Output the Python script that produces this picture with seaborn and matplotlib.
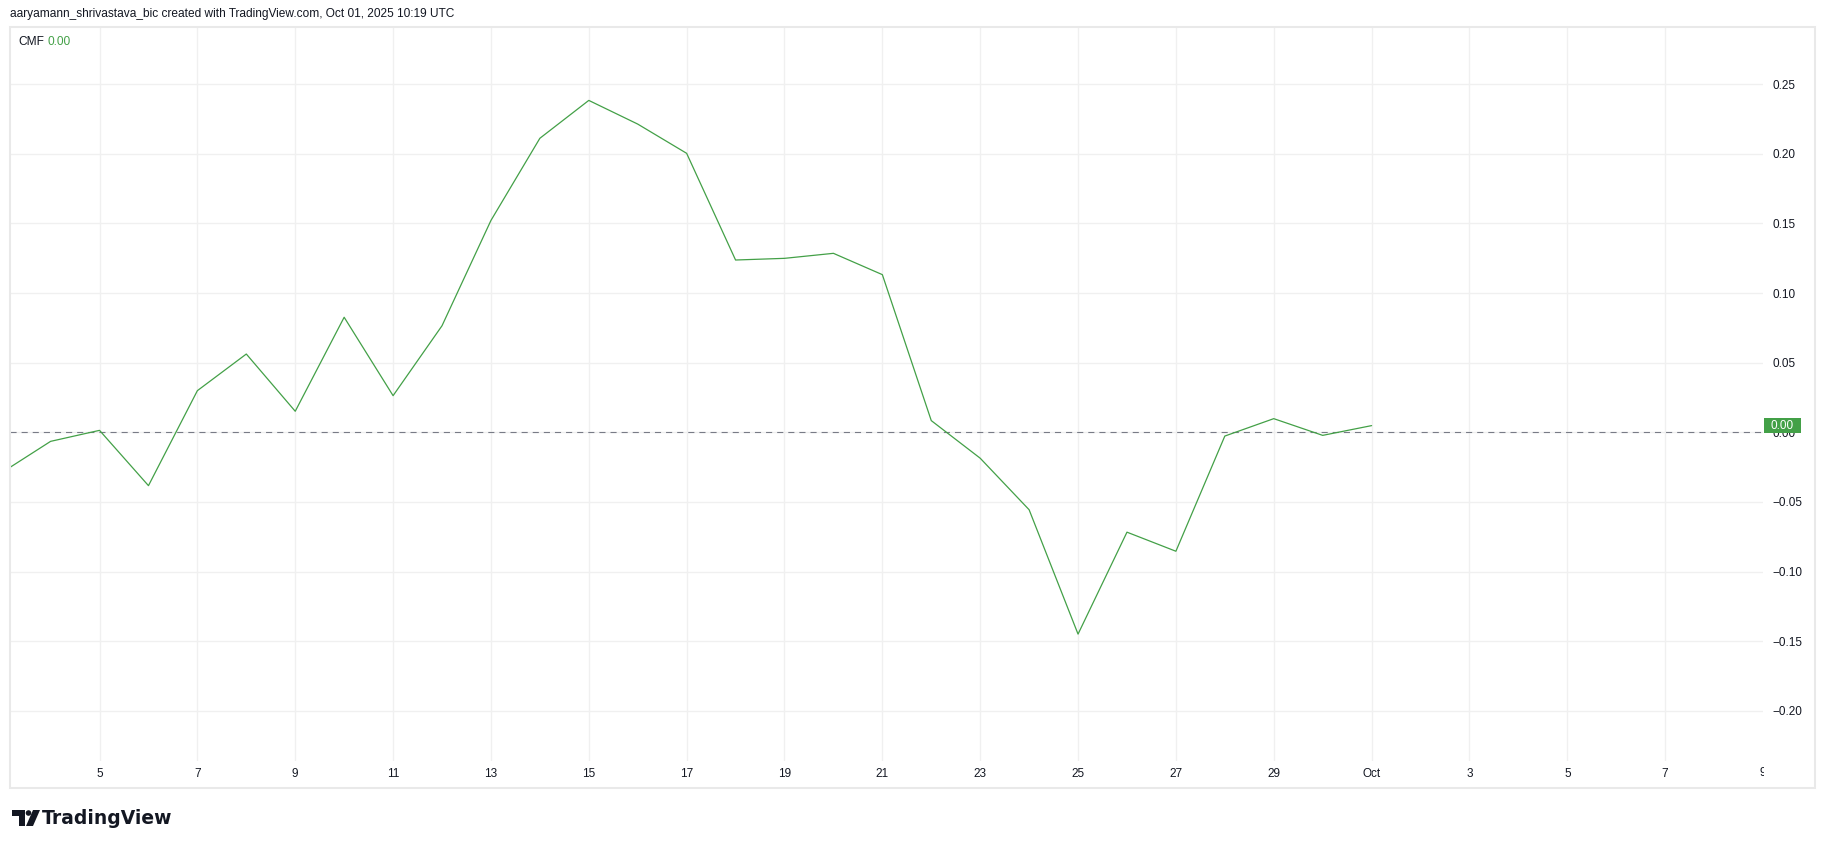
import matplotlib
matplotlib.use("Agg")
import matplotlib.pyplot as plt
import matplotlib.dates as mdates
import matplotlib.transforms as mtransforms
from matplotlib.patches import Rectangle, Polygon, Ellipse
from matplotlib.ticker import FixedLocator, FuncFormatter
import seaborn as sns
import pandas as pd

# CMF daily values
dates = ["2025-09-03", "2025-09-04", "2025-09-05", "2025-09-06", "2025-09-07",
         "2025-09-08", "2025-09-09", "2025-09-10", "2025-09-11", "2025-09-12",
         "2025-09-13", "2025-09-14", "2025-09-15", "2025-09-16", "2025-09-17",
         "2025-09-18", "2025-09-19", "2025-09-20", "2025-09-21", "2025-09-22",
         "2025-09-23", "2025-09-24", "2025-09-25", "2025-09-26", "2025-09-27",
         "2025-09-28", "2025-09-29", "2025-09-30", "2025-10-01"]
cmf = [-0.029, -0.0065, 0.0014, -0.0383, 0.0299,
       0.0562, 0.0151, 0.0826, 0.0263, 0.0765,
       0.1521, 0.2111, 0.2383, 0.2213, 0.2003,
       0.1237, 0.1249, 0.1285, 0.1132, 0.0084,
       -0.0186, -0.0556, -0.1449, -0.0717, -0.0854,
       -0.0027, 0.0098, -0.0022, 0.0048]

tick_dates = ["2025-09-05", "2025-09-07", "2025-09-09", "2025-09-11", "2025-09-13",
              "2025-09-15", "2025-09-17", "2025-09-19", "2025-09-21", "2025-09-23",
              "2025-09-25", "2025-09-27", "2025-09-29", "2025-10-01", "2025-10-03",
              "2025-10-05", "2025-10-07"]
tick_labels = ["5", "7", "9", "11", "13", "15", "17", "19", "21", "23",
               "25", "27", "29", "Oct", "3", "5", "7"]
y_ticks = [-0.20, -0.15, -0.10, -0.05, 0.00, 0.05, 0.10, 0.15, 0.20, 0.25]

header = "aaryamann_shrivastava_bic created with TradingView.com, Oct 01, 2025 10:19 UTC"

GREEN = "#43a047"
TEXT = "#131722"
GRID = "#f0f0f0"
FRAME = "#e9e9e9"

df = pd.DataFrame({"date": pd.to_datetime(dates), "cmf": cmf})

sns.set_theme(style="white")
plt.rcParams["font.family"] = ["Liberation Sans", "DejaVu Sans"]

W, H = 1825, 849
fig = plt.figure(figsize=(W / 100, H / 100), dpi=100)
fig.patch.set_facecolor("white")


def px(x, y):
    return x / W, 1 - y / H


ax = fig.add_axes([10 / W, 1 - 761 / H, (1763 - 10) / W, (761 - 27) / H])
ax.set_facecolor("white")

sns.lineplot(data=df, x="date", y="cmf", ax=ax, color=GREEN, linewidth=0.9)
ax.axhline(0, color="#787b86", linewidth=0.8, linestyle=(0, (5.5, 4.5)), zorder=1)

x0 = pd.Timestamp("2025-09-03") + pd.Timedelta(days=0.17)
x1 = pd.Timestamp("2025-10-09")
ax.set_xlim(mdates.date2num(x0), mdates.date2num(x1))
ax.set_ylim(-0.236, 0.291)

ax.xaxis.set_major_locator(FixedLocator(mdates.date2num(pd.to_datetime(tick_dates))))
ax.set_xticklabels(tick_labels)
ax.yaxis.set_major_locator(FixedLocator(y_ticks))
ax.yaxis.set_major_formatter(FuncFormatter(lambda v, p: f"{v:.2f}".replace("-", "\u2212")))
ax.yaxis.tick_right()
ax.tick_params(axis="x", length=0, pad=5, labelsize=8.5, labelcolor=TEXT)
ax.tick_params(axis="y", length=0, pad=6.5, labelsize=8.5, labelcolor=TEXT)
for lab in ax.get_yticklabels():
    lab.set_horizontalalignment("left")
ax.set_xlabel("")
ax.set_ylabel("")
ax.grid(True, color=GRID, linewidth=1.0)
for s in ax.spines.values():
    s.set_visible(False)

# half-visible "9" at the right edge of the time scale
clip = mtransforms.TransformedBbox(mtransforms.Bbox([[0, 0], [1764 / W, 1]]), fig.transFigure)
t9 = ax.text(mdates.date2num(pd.Timestamp("2025-10-09")), 1 - 773 / H, "9",
             transform=mtransforms.blended_transform_factory(ax.transData, fig.transFigure),
             fontsize=8.5, color=TEXT, ha="center", va="center")
t9.set_clip_box(clip)
t9.set_clip_on(True)

# last value marker on the price scale
last = cmf[-1]
box_h = 15 / 1393
trans = mtransforms.blended_transform_factory(ax.transAxes, ax.transData)
ax.add_patch(Rectangle((1754 / 1753, last - box_h / 2), 37 / 1753, box_h, transform=trans,
                       facecolor=GREEN, edgecolor="none", clip_on=False, zorder=5))
ax.text(1772.5 / 1753, last, f"{last:.2f}", transform=trans, color="white", fontsize=8.5,
        ha="center", va="center", clip_on=False, zorder=6)

# outer frame
fx, fy = px(10, 788)
fig.add_artist(Rectangle((fx, fy), (1815 - 10) / W, (788 - 27) / H, transform=fig.transFigure,
                         fill=False, edgecolor=FRAME, linewidth=1.5))

# header and legend
fig.text(*px(10, 14), header, fontsize=8.6, color=TEXT, ha="left", va="center")
fig.text(*px(18, 42), "CMF", fontsize=8.6, color=TEXT, ha="left", va="center")
fig.text(*px(47, 42), "0.00", fontsize=8.6, color=GREEN, ha="left", va="center")

# TradingView logo
logo_t = [px(12, 810), px(25, 810), px(25, 826), px(19, 826), px(19, 816), px(12, 816)]
logo_s = [px(33, 810), px(40, 810), px(33, 826), px(26, 826)]
fig.add_artist(Polygon(logo_t, closed=True, transform=fig.transFigure, facecolor=TEXT, edgecolor="none"))
fig.add_artist(Polygon(logo_s, closed=True, transform=fig.transFigure, facecolor=TEXT, edgecolor="none"))
cx, cy = px(28.5, 813)
fig.add_artist(Ellipse((cx, cy), 5.6 / W, 5.6 / H, transform=fig.transFigure, facecolor=TEXT, edgecolor="none"))
fig.text(*px(42, 818), "TradingView", fontsize=13.5, fontweight="bold", color=TEXT,
         ha="left", va="center", family=["DejaVu Sans"])

fig.savefig("out.png", dpi=100, facecolor="white")
